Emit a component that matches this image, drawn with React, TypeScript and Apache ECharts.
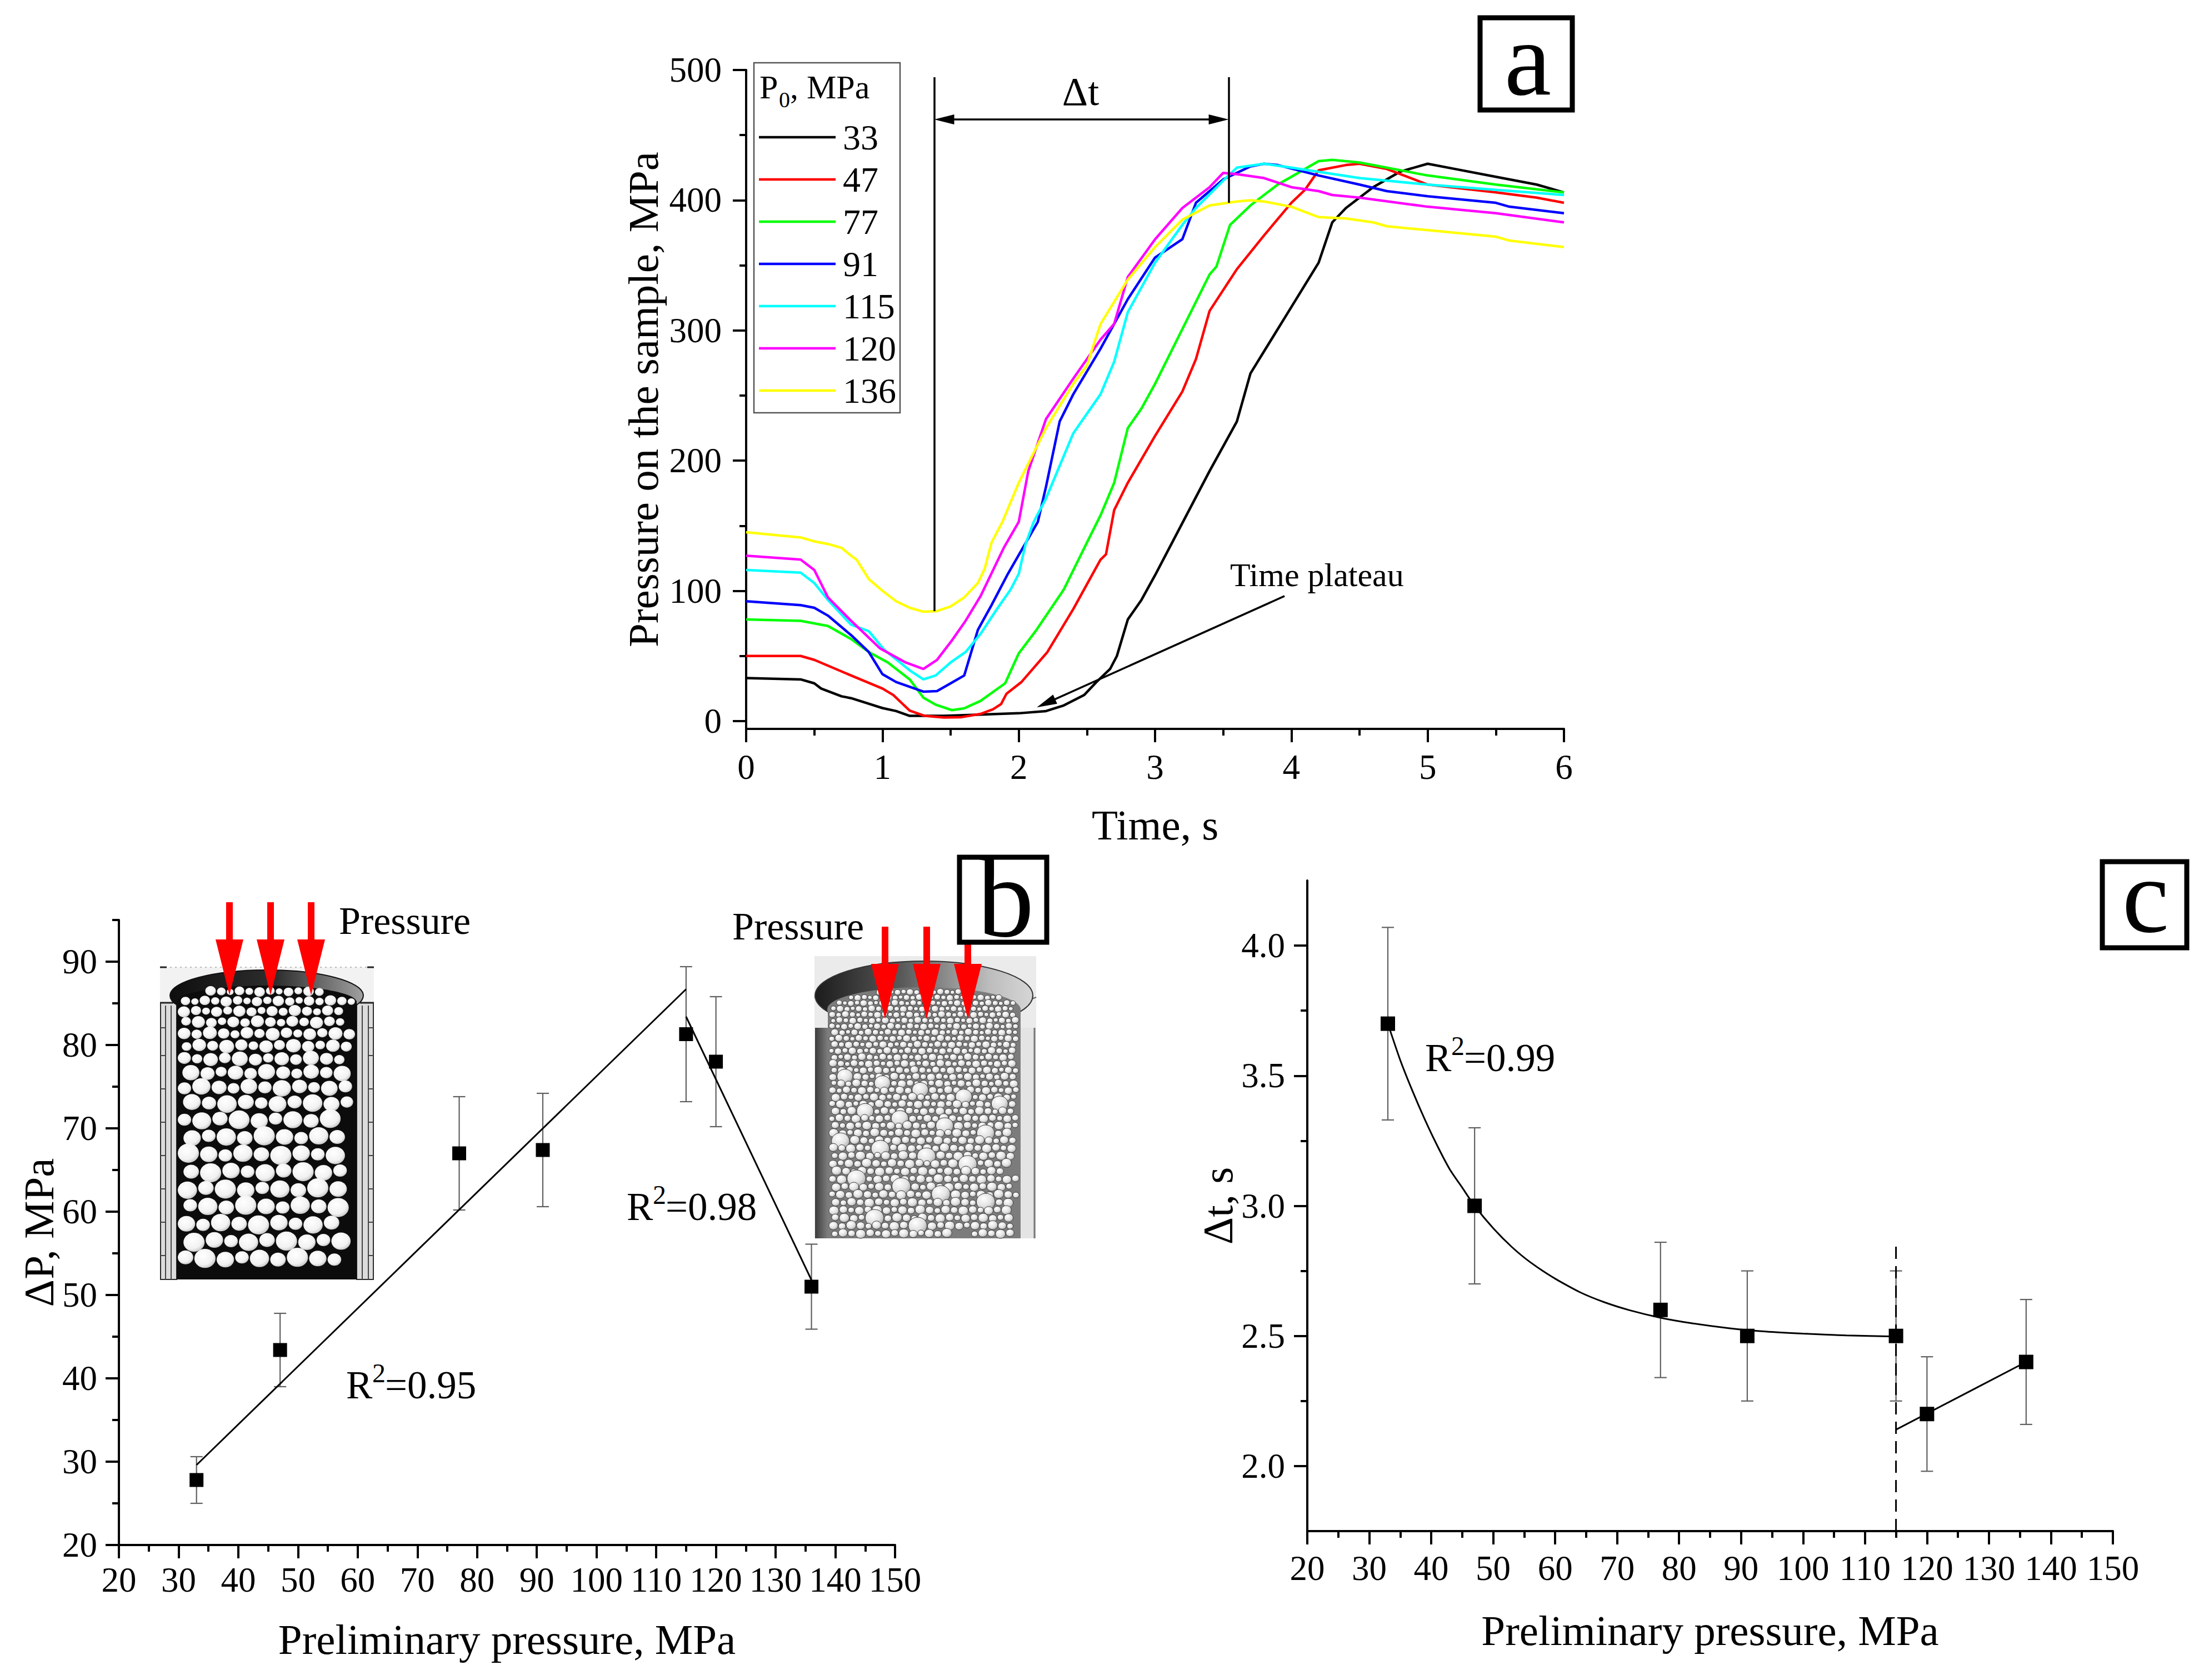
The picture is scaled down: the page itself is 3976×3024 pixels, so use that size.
import React, { useEffect, useRef } from 'react';
import * as echarts from 'echarts';

const FONT = "'Liberation Serif', 'Times New Roman', serif";

// ---------- Panel a data ----------
const legendNames = ['33', '47', '77', '91', '115', '120', '136'];
const lineColors = ['#000000', '#ff0000', '#00ff00', '#0000ff', '#00ffff', '#ff00ff', '#ffff00'];

const s33 = [[0,33],[0.4,32],[0.5,29],[0.55,25],[0.7,19],[0.77,17.6],[1.0,10],[1.1,7.7],[1.2,4],[1.45,4],[2.0,6],[2.2,7.7],[2.33,12],[2.48,20],[2.57,30],[2.67,40],[2.72,50],[2.8,78],[2.9,93],[3.0,112],[3.2,152],[3.4,192],[3.5,211],[3.6,230],[3.7,267],[3.8,284],[4.0,318],[4.2,352],[4.3,383],[4.4,394],[4.6,410],[4.8,422],[5.0,428],[5.2,424],[5.5,418],[5.8,412],[6.0,406]];
const s47 = [[0,50],[0.4,50],[0.5,47],[0.77,35],[1.0,25],[1.08,20],[1.2,8],[1.31,4],[1.45,2.7],[1.58,3],[1.72,5.5],[1.81,9],[1.87,13],[1.91,21],[2.02,30],[2.21,53],[2.4,86],[2.6,124],[2.64,128],[2.7,162],[2.8,183],[3.0,219],[3.2,253],[3.3,278],[3.4,315],[3.5,331],[3.6,347],[3.8,373],[4.0,398],[4.1,408],[4.2,423],[4.4,427],[4.5,428],[4.7,424],[5.0,412],[5.5,406],[5.8,402],[6.0,398]];
const s77 = [[0,78],[0.4,77],[0.6,73],[0.77,63],[0.9,53],[1.04,45],[1.2,32],[1.3,18],[1.39,12.6],[1.51,8.4],[1.6,9.8],[1.72,15.5],[1.9,29],[2.0,52],[2.13,70],[2.33,101],[2.5,137],[2.6,158],[2.7,183],[2.8,225],[2.9,240],[3.0,259],[3.2,301],[3.4,343],[3.45,349],[3.55,381],[3.7,396],[3.9,412],[4.0,418],[4.2,430],[4.3,431],[4.5,429],[5.0,419],[5.5,412],[6.0,406]];
const s91 = [[0,92],[0.4,89],[0.5,87],[0.6,81],[0.77,66],[0.9,53],[1.0,36],[1.1,30],[1.3,22.6],[1.4,23],[1.5,29],[1.6,35],[1.7,70],[1.8,89],[1.92,113],[2.14,153],[2.2,180],[2.3,230],[2.4,251],[2.6,286],[2.8,324],[3.0,356],[3.2,370],[3.3,398],[3.5,416],[3.7,426],[3.8,428],[3.9,427],[4.2,419],[4.5,412],[4.7,407],[5.0,403],[5.5,398],[5.6,395],[6.0,390]];
const s115 = [[0,116],[0.4,114],[0.5,106],[0.6,93],[0.77,74],[0.9,69],[1.01,55],[1.2,39],[1.3,32],[1.39,35],[1.5,45],[1.61,53],[1.72,67],[1.84,86],[1.94,101],[2.0,113],[2.05,136],[2.11,153],[2.2,171],[2.4,221],[2.6,251],[2.7,276],[2.8,314],[3.0,352],[3.2,381],[3.3,394],[3.5,415],[3.6,425],[3.8,428],[4.0,425],[4.5,417],[5.0,412],[5.5,408],[6.0,404]];
const s120 = [[0,127],[0.4,124],[0.5,116],[0.6,95],[0.77,77],[0.98,56],[1.17,45],[1.3,40],[1.4,47],[1.51,62],[1.61,77],[1.72,96],[1.89,133],[2.0,153],[2.07,192],[2.2,232],[2.4,263],[2.6,293],[2.7,305],[2.8,341],[3.0,370],[3.2,394],[3.4,410],[3.5,421],[3.6,420],[3.8,417],[4.0,410],[4.2,407],[4.3,404],[4.5,402],[5.0,395],[5.5,390],[6.0,383]];
const s136 = [[0,145],[0.4,141],[0.5,138],[0.6,136],[0.7,133],[0.77,127],[0.81,124],[0.9,109],[1.0,100],[1.1,92],[1.2,87],[1.3,84],[1.4,84.5],[1.5,88],[1.6,95],[1.7,106],[1.75,117],[1.8,137],[1.88,153],[2.0,183],[2.2,225],[2.4,259],[2.5,273],[2.6,305],[2.8,339],[3.0,364],[3.2,385],[3.4,396],[3.6,399],[3.7,400],[3.8,399],[4.0,395],[4.2,387],[4.4,386],[4.6,383],[4.7,380],[5.0,377],[5.5,372],[5.6,369],[6.0,364]];
const aSeriesData = [s33, s47, s77, s91, s115, s120, s136];

const aTimeMajor = [0, 1, 2, 3, 4, 5, 6];
const aTimeMinor = [0.5, 1.5, 2.5, 3.5, 4.5, 5.5];
const aPressMajor = [0, 100, 200, 300, 400, 500];
const aPressMinor = [50, 150, 250, 350, 450];

// annotation anchors (data coordinates)
const dtStart = 1.38;
const dtEnd = 3.54;
const markTop = 494.5;
const dtLeftBottom = 84.5;
const dtRightBottom = 398;
const dtArrowP = 462;
const plateauFrom = [3.95, 96];
const plateauTo = [2.2, 13.7];

// ---------- Panel b data ----------
const prePressure = [33, 47, 77, 91, 115, 120, 136];
const bDeltaP = [27.8, 43.4, 67.0, 67.4, 81.3, 78.0, 51.0];
const bErr = [2.8, 4.4, 6.8, 6.8, 8.1, 7.8, 5.1];
const bFit1 = [[33, 29.6], [115, 86.7]];
const bFit2 = [[115, 83.4], [136, 51.8]];
const pMajor = [20, 30, 40, 50, 60, 70, 80, 90, 100, 110, 120, 130, 140, 150];
const pMinor = [25, 35, 45, 55, 65, 75, 85, 95, 105, 115, 125, 135, 145];
const bYMajor = [20, 30, 40, 50, 60, 70, 80, 90];
const bYMinor = [25, 35, 45, 55, 65, 75, 85, 95];

// ---------- Panel c data ----------
const cDeltaT = [3.70, 3.00, 2.60, 2.50, 2.50, 2.20, 2.40];
const cErr = [0.37, 0.30, 0.26, 0.25, 0.25, 0.22, 0.24];
const cFit1 = [[33,3.70],[35,3.56],[37,3.44],[39,3.33],[41,3.23],[43,3.14],[45,3.07],[47,3.00],[50,2.914],[53,2.842],[56,2.783],[60,2.72],[64,2.668],[68,2.629],[72,2.599],[77,2.57],[82,2.549],[88,2.53],[94,2.517],[100,2.509],[107,2.502],[115,2.498]];
const cFit2 = [[115, 2.14], [136, 2.40]];
const cDash = [[115, 1.75], [115, 2.87]];
const cYMajor = [2.0, 2.5, 3.0, 3.5, 4.0];
const cYMinor = [2.25, 2.75, 3.25, 3.75];

// ---------- helpers ----------
function axisPair(dim: 'x' | 'y', gridIndex: number, min: number, max: number, major: number[], minor: number[], margin: number, name: string, nameGap: number, fmt?: (v: number) => string) {
  const position = dim === 'x' ? 'bottom' : 'left';
  const common: any = { type: 'value', gridIndex, min, max, position, splitLine: { show: false }, silent: true };
  const labelOpt: any = { show: true, customValues: major, margin, fontSize: 63, fontFamily: FONT, color: '#000' };
  if (fmt) labelOpt.formatter = fmt;
  const majorAxis = {
    ...common,
    axisLine: { show: true, onZero: false, lineStyle: { color: '#000', width: 4 } },
    axisTick: { show: true, inside: false, customValues: major, length: 24, lineStyle: { color: '#000', width: 4 } },
    axisLabel: labelOpt,
    name, nameLocation: 'middle', nameGap,
    nameTextStyle: { fontSize: 77, fontFamily: FONT, color: '#000' },
  };
  const minorAxis = {
    ...common,
    axisLine: { show: false, onZero: false },
    axisTick: { show: true, inside: false, customValues: minor, length: 12, lineStyle: { color: '#000', width: 4 } },
    axisLabel: { show: false },
  };
  return [majorAxis, minorAxis];
}

const errorBarRender = (params: any, api: any) => {
  const x = api.value(0), y = api.value(1), e = api.value(2);
  const top = api.coord([x, y + e]);
  const bot = api.coord([x, y - e]);
  const hw = 11;
  const style = { stroke: '#606060', lineWidth: 2.2 };
  return {
    type: 'group',
    children: [
      { type: 'line', shape: { x1: top[0], y1: top[1], x2: bot[0], y2: bot[1] }, style },
      { type: 'line', shape: { x1: top[0] - hw, y1: top[1], x2: top[0] + hw, y2: top[1] }, style },
      { type: 'line', shape: { x1: bot[0] - hw, y1: bot[1], x2: bot[0] + hw, y2: bot[1] }, style },
    ],
  };
};

const yb = (baseline: number, fs: number) => baseline - 0.34 * fs;
const T = (text: string, x: number, y: number, fs: number, extra: any = {}) => ({
  type: 'text', x, y, silent: true, z: 50,
  style: { text, fontSize: fs, fontFamily: FONT, fill: '#000', align: 'left', verticalAlign: 'middle', ...extra },
});

function r2(x: number, baseline: number, val: string) {
  const fs = 71, fsSup = 48;
  return [
    T('R', x, yb(baseline, fs), fs),
    T('2', x + 47, yb(baseline - 29, fsSup), fsSup),
    T('=' + val, x + 70, yb(baseline, fs), fs),
  ];
}

function redArrow(cx: number, top: number, base: number, tip: number) {
  return {
    type: 'polygon', silent: true, z: 30,
    shape: { points: [[cx - 6, top], [cx + 6, top], [cx + 6, base], [cx + 25, base], [cx, tip], [cx - 25, base], [cx - 6, base]] },
    style: { fill: '#ff0000' },
  };
}

function sphereRows(opts: any) {
  const { x0, x1, y0, y1, rTop, rBot, ramp, gap, rowK, ell, fill, stroke, big } = opts;
  const out: any[] = [];
  let y = y0;
  let row = 0;
  while (y < y1) {
    const f = Math.min(1, (y - y0) / ramp);
    const base = rTop + (rBot - rTop) * f;
    let x = x0 + (row % 2) * base * 0.6;
    let k = 0;
    while (true) {
      let r = base * (0.72 + 0.4 * (((k * 3 + row * 2) % 5) / 4));
      if (big && y > big.from && (k * 7 + row * 11) % big.mod === 0) r = base * big.scale;
      if (x + 2 * r > x1) break;
      const cx = x + r;
      const cy = y + base + (((k * 7 + row) % 3) - 1) * base * 0.12;
      const ry = r * 0.9;
      let ok = cy + ry <= y1 + 1;
      if (ok && cy < ell.cy) {
        const d = ((cx - ell.cx) / ell.rx) ** 2 + ((cy - ell.cy) / ell.ry) ** 2;
        if (d > 1) ok = false;
      }
      if (ok) {
        const st: any = { fill };
        if (stroke) { st.stroke = stroke; st.lineWidth = 1; }
        out.push({ type: 'ellipse', silent: true, z: 21, shape: { cx, cy, rx: r, ry }, style: st });
      }
      x += 2 * r + gap;
      k++;
    }
    y += base * rowK + gap;
    row++;
  }
  return out;
}

function leftInset() {
  const g: any[] = [];
  const x0 = 288, x1 = 673, yT = 1741, yB = 2303;
  g.push({ type: 'rect', silent: true, z: 20, shape: { x: x0, y: yT, width: x1 - x0, height: yB - yT }, style: { fill: '#f2f2f2' } });
  g.push({ type: 'line', silent: true, z: 20, shape: { x1: x0, y1: yT, x2: x1, y2: yT }, style: { stroke: '#bbb', lineWidth: 2, lineDash: [3, 6] } });
  g.push({ type: 'rect', silent: true, z: 20, shape: { x: 289, y: 1805, width: 29, height: yB - 1805 }, style: { fill: '#dcdcdc', stroke: '#2a2a2a', lineWidth: 2 } });
  g.push({ type: 'rect', silent: true, z: 20, shape: { x: 642, y: 1805, width: 30, height: yB - 1805 }, style: { fill: '#dcdcdc', stroke: '#2a2a2a', lineWidth: 2 } });
  [298, 308].forEach((x) => g.push({ type: 'line', silent: true, z: 20, shape: { x1: x, y1: 1810, x2: x, y2: yB }, style: { stroke: '#444', lineWidth: 2 } }));
  [652, 663].forEach((x) => g.push({ type: 'line', silent: true, z: 20, shape: { x1: x, y1: 1810, x2: x, y2: yB }, style: { stroke: '#444', lineWidth: 2 } }));
  [1850, 1900, 1960, 2020, 2080, 2140, 2200, 2260].forEach((y) => {
    g.push({ type: 'line', silent: true, z: 20, shape: { x1: 289, y1: y, x2: 298, y2: y }, style: { stroke: '#444', lineWidth: 2 } });
    g.push({ type: 'line', silent: true, z: 20, shape: { x1: 663, y1: y, x2: 672, y2: y }, style: { stroke: '#444', lineWidth: 2 } });
  });
  [[288, 1741, 300], [661, 1741, 673], [288, 1805, 312], [648, 1805, 673]].forEach(([a, y, b]) =>
    g.push({ type: 'line', silent: true, z: 20, shape: { x1: a, y1: y, x2: b, y2: y }, style: { stroke: '#222', lineWidth: 3 } }));
  g.push({ type: 'ellipse', silent: true, z: 20, shape: { cx: 480, cy: 1792, rx: 174, ry: 46 },
    style: { fill: { type: 'linear', x: 0, y: 0, x2: 1, y2: 0, colorStops: [{ offset: 0, color: '#0e0e0e' }, { offset: 0.55, color: '#2e2e2e' }, { offset: 1, color: '#a0a0a0' }] }, stroke: '#111', lineWidth: 2 } });
  g.push({ type: 'rect', silent: true, z: 20, shape: { x: 318, y: 1802, width: 324, height: yB - 1802 }, style: { fill: '#0c0c0c' } });
  g.push({ type: 'ellipse', silent: true, z: 20, shape: { cx: 480, cy: 1804, rx: 162, ry: 30 }, style: { fill: '#0c0c0c' } });
  const fill = { type: 'radial', x: 0.4, y: 0.35, r: 0.75, colorStops: [{ offset: 0, color: '#ffffff' }, { offset: 0.65, color: '#f1f1f1' }, { offset: 1, color: '#b5b5b5' }] };
  g.push(...sphereRows({ x0: 320, x1: 640, y0: 1776, y1: yB, rTop: 8.5, rBot: 17, ramp: 230, gap: 2, rowK: 1.72, ell: { cx: 480, cy: 1804, rx: 158, ry: 27 }, fill }));
  return g;
}

function rightInset() {
  const g: any[] = [];
  const x0 = 1466, x1 = 1865, yT = 1721, yB = 2229;
  g.push({ type: 'rect', silent: true, z: 20, shape: { x: x0, y: yT, width: x1 - x0, height: yB - yT }, style: { fill: '#ebebeb' } });
  g.push({ type: 'rect', silent: true, z: 20, shape: { x: 1467, y: 1850, width: 24, height: yB - 1850 },
    style: { fill: { type: 'linear', x: 0, y: 0, x2: 1, y2: 0, colorStops: [{ offset: 0, color: '#3c3c3c' }, { offset: 1, color: '#808080' }] } } });
  g.push({ type: 'rect', silent: true, z: 20, shape: { x: 1837, y: 1850, width: 26, height: yB - 1850 }, style: { fill: '#e4e4e4' } });
  g.push({ type: 'line', silent: true, z: 20, shape: { x1: 1862, y1: 1850, x2: 1862, y2: yB }, style: { stroke: '#777', lineWidth: 3 } });
  g.push({ type: 'line', silent: true, z: 20, shape: { x1: 1466, y1: 1795, x2: 1490, y2: 1805 }, style: { stroke: '#666', lineWidth: 2 } });
  g.push({ type: 'line', silent: true, z: 20, shape: { x1: 1840, y1: 1805, x2: 1865, y2: 1795 }, style: { stroke: '#666', lineWidth: 2 } });
  g.push({ type: 'ellipse', silent: true, z: 20, shape: { cx: 1663, cy: 1792, rx: 196, ry: 62 },
    style: { fill: { type: 'linear', x: 0, y: 0, x2: 1, y2: 0, colorStops: [{ offset: 0, color: '#1c1c1c' }, { offset: 0.4, color: '#5a5a5a' }, { offset: 0.8, color: '#bdbdbd' }, { offset: 1, color: '#d6d6d6' }] }, stroke: '#333', lineWidth: 2 } });
  g.push({ type: 'rect', silent: true, z: 20, shape: { x: 1490, y: 1815, width: 347, height: yB - 1815 }, style: { fill: '#7c7c7c' } });
  g.push({ type: 'ellipse', silent: true, z: 20, shape: { cx: 1663, cy: 1817, rx: 174, ry: 40 }, style: { fill: '#7c7c7c' } });
  const fill = { type: 'radial', x: 0.38, y: 0.32, r: 0.8, colorStops: [{ offset: 0, color: '#ffffff' }, { offset: 0.55, color: '#e2e2e2' }, { offset: 1, color: '#999999' }] };
  g.push(...sphereRows({ x0: 1492, x1: 1835, y0: 1780, y1: yB, rTop: 5.5, rBot: 8, ramp: 300, gap: 0.8, rowK: 1.65, ell: { cx: 1663, cy: 1817, rx: 171, ry: 37 }, fill, stroke: '#3a3a3a', big: { from: 1930, mod: 23, scale: 2.1 } }));
  return g;
}

function buildGraphics() {
  const g: any[] = [];
  g.push({ type: 'rect', silent: true, z: 10, shape: { x: 1357, y: 113, width: 263, height: 630 }, style: { fill: 'none', stroke: '#555', lineWidth: 2.5 } });
  g.push(T('P', 1367, yb(177, 60), 60));
  g.push(T('0', 1402, yb(193, 40), 40));
  g.push(T(', MPa', 1422, yb(177, 60), 60));
  g.push(T('\u0394t', 1945, 165, 72, { align: 'center' }));
  g.push(T('Time plateau', 2214, 1035, 60));
  g.push(...leftInset());
  g.push(...rightInset());
  [413, 487, 560].forEach((cx) => g.push(redArrow(cx, 1624, 1691, 1791)));
  [1593, 1668, 1742].forEach((cx) => g.push(redArrow(cx, 1668, 1735, 1834)));
  g.push(T('Pressure', 610, yb(1681, 70), 70));
  g.push(T('Pressure', 1318, yb(1691, 70), 70));
  g.push(...r2(623, 2517, '0.95'));
  g.push(...r2(1128, 2196, '0.98'));
  g.push(...r2(2565, 1928, '0.99'));
  const boxes = [
    { x: 2664, y: 32, w: 166, h: 166, t: 'a', cx: 2750, base: 171, fs: 190 },
    { x: 1727, y: 1543, w: 157, h: 153, t: 'b', cx: 1810, base: 1685, fs: 205 },
    { x: 3784, y: 1551, w: 152, h: 155, t: 'c', cx: 3862, base: 1678, fs: 190 },
  ];
  boxes.forEach((b) => {
    g.push({ type: 'rect', silent: true, z: 60, shape: { x: b.x, y: b.y, width: b.w, height: b.h }, style: { fill: '#fff', stroke: '#000', lineWidth: 9 } });
    g.push({ ...T(b.t, b.cx, yb(b.base, b.fs), b.fs, { align: 'center' }), z: 61 });
  });
  return g;
}

function buildOption() {
  const [ax0, ax1] = axisPair('x', 0, 0, 6, aTimeMajor, aTimeMinor, 37, 'Time, s', 134);
  const [ay0, ay1] = axisPair('y', 0, -6, 500, aPressMajor, aPressMinor, 44, 'Pressure on the sample, MPa', 147);
  const [bx0, bx1] = axisPair('x', 1, 20, 150, pMajor, pMinor, 31, 'Preliminary pressure, MPa', 131);
  const [by0, by1] = axisPair('y', 1, 20, 95, bYMajor, bYMinor, 39, '\u0394P, MPa', 106);
  const [cx0, cx1] = axisPair('x', 2, 20, 150, pMajor, pMinor, 35, 'Preliminary pressure, MPa', 140);
  const [cy0, cy1] = axisPair('y', 2, 1.75, 4.25, cYMajor, cYMinor, 40, '\u0394t, s', 120, (v: number) => v.toFixed(1));

  const aSeries: any[] = aSeriesData.map((d, i) => ({
    type: 'line', name: legendNames[i], xAxisIndex: 0, yAxisIndex: 0, data: d,
    symbol: 'none', showSymbol: false, silent: true, z: 3,
    lineStyle: { color: lineColors[i], width: 4.5 }, itemStyle: { color: lineColors[i] },
  }));
  aSeries[0].markLine = {
    silent: true, animation: false, symbol: ['none', 'none'], symbolSize: [18, 36],
    label: { show: false }, emphasis: { disabled: true },
    lineStyle: { color: '#000', width: 3.5, type: 'solid' },
    data: [
      [{ coord: [dtStart, markTop] }, { coord: [dtStart, dtLeftBottom] }],
      [{ coord: [dtEnd, markTop] }, { coord: [dtEnd, dtRightBottom] }],
      [{ coord: [dtStart + 0.073, dtArrowP], symbol: 'triangle' }, { coord: [dtEnd - 0.073, dtArrowP], symbol: 'triangle' }],
      [{ coord: plateauFrom }, { coord: plateauTo, symbol: 'triangle' }],
    ],
  };

  const bErrData = prePressure.map((x, i) => [x, bDeltaP[i], bErr[i]]);
  const bPts = prePressure.map((x, i) => [x, bDeltaP[i]]);
  const cErrData = prePressure.map((x, i) => [x, cDeltaT[i], cErr[i]]);
  const cPts = prePressure.map((x, i) => [x, cDeltaT[i]]);

  const fitLine = (data: any, xi: number, yi: number, extra: any = {}) => ({
    type: 'line', xAxisIndex: xi, yAxisIndex: yi, data, symbol: 'none', silent: true, z: 3,
    lineStyle: { color: '#000', width: 3 }, ...extra,
  });

  const series: any[] = [
    ...aSeries,
    { type: 'custom', xAxisIndex: 2, yAxisIndex: 2, data: bErrData, renderItem: errorBarRender, encode: { x: 0, y: 1 }, silent: true, z: 2 },
    fitLine(bFit1, 2, 2),
    fitLine(bFit2, 2, 2),
    { type: 'scatter', xAxisIndex: 2, yAxisIndex: 2, data: bPts, symbol: 'rect', symbolSize: 25, itemStyle: { color: '#000', opacity: 1 }, silent: true, z: 5 },
    { type: 'custom', xAxisIndex: 4, yAxisIndex: 4, data: cErrData, renderItem: errorBarRender, encode: { x: 0, y: 1 }, silent: true, z: 2 },
    fitLine(cFit1, 4, 4, { smooth: 0.2 }),
    fitLine(cFit2, 4, 4),
    fitLine(cDash, 4, 4, { lineStyle: { color: '#000', width: 3, type: [22, 13] } }),
    { type: 'scatter', xAxisIndex: 4, yAxisIndex: 4, data: cPts, symbol: 'rect', symbolSize: 26, itemStyle: { color: '#000', opacity: 1 }, silent: true, z: 5 },
  ];

  return {
    animation: false,
    backgroundColor: '#ffffff',
    textStyle: { fontFamily: FONT, color: '#000' },
    grid: [
      { left: 1343, top: 126, width: 1472, height: 1186 },
      { left: 214, top: 1656, width: 1397, height: 1125 },
      { left: 2353, top: 1585, width: 1450, height: 1171 },
    ],
    xAxis: [ax0, ax1, bx0, bx1, cx0, cx1],
    yAxis: [ay0, ay1, by0, by1, cy0, cy1],
    legend: {
      show: true, orient: 'vertical', left: 1366, top: 215, padding: 0,
      itemWidth: 138, itemHeight: 4.5, itemGap: 12, selectedMode: false, icon: 'rect',
      data: legendNames,
      textStyle: { fontSize: 64, lineHeight: 64, fontFamily: FONT, color: '#000', padding: [0, 0, 0, 8] },
    },
    graphic: { elements: buildGraphics() },
    series,
  };
}

export default function App() {
  const ref = useRef<HTMLDivElement>(null);
  useEffect(() => {
    const chart = echarts.init(ref.current as HTMLDivElement, null, { renderer: 'svg' });
    chart.setOption(buildOption() as any);
    return () => chart.dispose();
  }, []);
  return (
    <div
      ref={ref}
      style={{ position: 'absolute', left: 0, top: 0, width: 3976, height: 3024, background: '#fff' }}
    />
  );
}
